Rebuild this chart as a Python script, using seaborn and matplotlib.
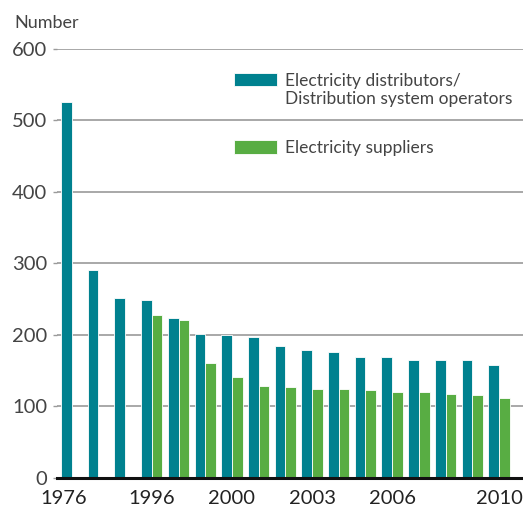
import numpy as np
import pandas as pd
import matplotlib
matplotlib.use('Agg')
import matplotlib.pyplot as plt
import matplotlib.transforms as mtransforms
import seaborn as sns

# --- data ---
years = ['1976', '1986', '1991', '1996', '1997', '1998', '2000', '2001', '2002',
         '2003', '2004', '2005', '2006', '2007', '2008', '2009', '2010']
distributors = [526, 290, 252, 248, 224, 201, 199, 197, 184,
                178, 176, 169, 169, 164, 164, 164, 157]
suppliers = [np.nan, np.nan, np.nan, 227, 220, 160, 141, 128, 127,
             124, 124, 122, 120, 120, 117, 115, 111]
shown_years = ['1976', '1996', '2000', '2003', '2006', '2010']

lab_dist = 'Electricity distributors/\nDistribution system operators'
lab_supp = 'Electricity suppliers'

df = pd.DataFrame({'year': years, lab_dist: distributors, lab_supp: suppliers})
long_df = df.melt(id_vars='year', var_name='series', value_name='number')

# --- style ---
sns.set_style('white')
plt.rcParams['font.family'] = ['Lato', 'DejaVu Sans']
text_col = '#444444'

fig = plt.figure(figsize=(5.23, 5.08), dpi=100)
ax = fig.add_axes([0.109, 0.060, 0.891, 0.8435])

sns.barplot(data=long_df, x='year', y='number', hue='series', order=years,
            hue_order=[lab_dist, lab_supp],
            palette=['#00818f', '#58ad43'], saturation=1, width=0.8,
            edgecolor='white', linewidth=0.6, ax=ax)

ax.set_ylim(0, 600)
ax.set_xlim(-0.55, 16.9)
ax.set_yticks(range(0, 601, 100))
ax.yaxis.grid(True, color='#9a9a9a', linewidth=1.2)
ax.set_axisbelow(True)

for s in ['top', 'right', 'left']:
    ax.spines[s].set_visible(False)
ax.spines['bottom'].set_color('#111111')
ax.spines['bottom'].set_linewidth(2.2)

ax.set_xticks([years.index(y) for y in shown_years])
ax.set_xticklabels(shown_years)
ax.tick_params(axis='x', length=0, pad=9, labelsize=14.5, labelcolor='#222222')
ax.tick_params(axis='y', length=3, width=1, color='#9a9a9a', pad=4,
               labelsize=14.5, labelcolor=text_col, left=True)
ax.set_xlabel('')
ax.set_ylabel('')

# first year label sits a bit left of its group
first = ax.get_xticklabels()[0]
first.set_transform(first.get_transform() +
                    mtransforms.ScaledTranslation(-8 / 100, 0, fig.dpi_scale_trans))

fig.text(0.027, 0.955, 'Number', fontsize=13, color=text_col, va='center')

handles, labels = ax.get_legend_handles_labels()
leg = ax.legend(handles, labels, loc='upper left', bbox_to_anchor=(0.430, 0.874),
                bbox_transform=fig.transFigure, frameon=False, fontsize=12.5,
                handlelength=2.5, handleheight=0.8, handletextpad=0.45,
                labelspacing=1.9, borderpad=0, labelcolor=text_col)
# handle lines up with the first text line
for col in leg._legend_handle_box.get_children():
    for item in col.get_children():
        item.align = 'top'

fig.savefig('out.png', dpi=100)
